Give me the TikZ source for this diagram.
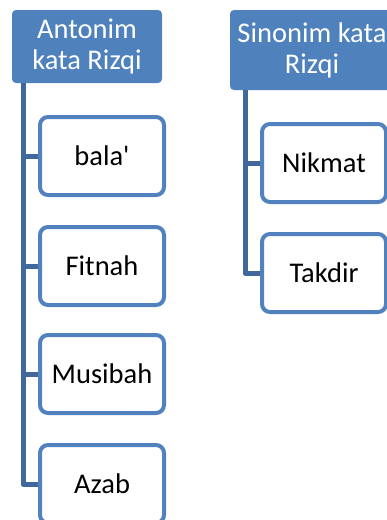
\documentclass[tikz,border=0pt]{standalone}
\usepackage{fontspec}
\setmainfont{Carlito}[Ligatures=TeXOff]
\definecolor{hdrblue}{HTML}{4F81BD}
\definecolor{linkblue}{HTML}{41689C}
\definecolor{boxblue}{HTML}{5282BE}
\begin{document}
\begin{tikzpicture}[x=1pt,y=-1pt,
  hdr/.style={fill=hdrblue,draw=none,rounded corners=4pt},
  hdrtext/.style={text=white,align=center,font=\fontsize{28.5}{31}\selectfont},
  item/.style={draw=boxblue,line width=4pt,fill=white,rounded corners=8pt,minimum width=124pt,
    minimum height=78pt,inner sep=0pt,font=\fontsize{28.5}{31}\selectfont},
  link/.style={draw=linkblue,line width=5pt,line join=round}]
\useasboundingbox (0,0) rectangle (387,520);
\clip (0,0) rectangle (387,520);
% headers
\path[hdr] (12,10) rectangle (162,83);
\node[hdrtext] (h1) at (87,46) {Antonim\\kata Rizqi};
\coordinate (h1b) at (23,83);
\path[hdr] (230,10) rectangle (396,90);
\node[hdrtext] (h2) at (312,50) {Sinonim kata\\Rizqi};
\coordinate (h2b) at (245,90);
% left items
\node[item] (b1) at (102,156) {bala'};
\node[item] (b2) at (102,266) {Fitnah};
\node[item] (b3) at (102,374) {Musibah};
\node[item] (b4) at (102,484) {Azab};
% right items
\node[item] (n1) at (324,163) {Nikmat};
\node[item] (n2) at (324,273) {Takdir};
% connectors
\coordinate (l1) at (23,156);
\coordinate (l2) at (23,266);
\coordinate (l3) at (23,374);
\coordinate (l4) at (23,484);
\draw[link] (h1b) -- (l4) -- (b4.west);
\draw[link] (l1) -- (b1.west);
\draw[link] (l2) -- (b2.west);
\draw[link] (l3) -- (b3.west);
\coordinate (r1) at (245,163);
\coordinate (r2) at (245,273);
\draw[link] (h2b) -- (r2) -- (n2.west);
\draw[link] (r1) -- (n1.west);
\end{tikzpicture}
\end{document}
